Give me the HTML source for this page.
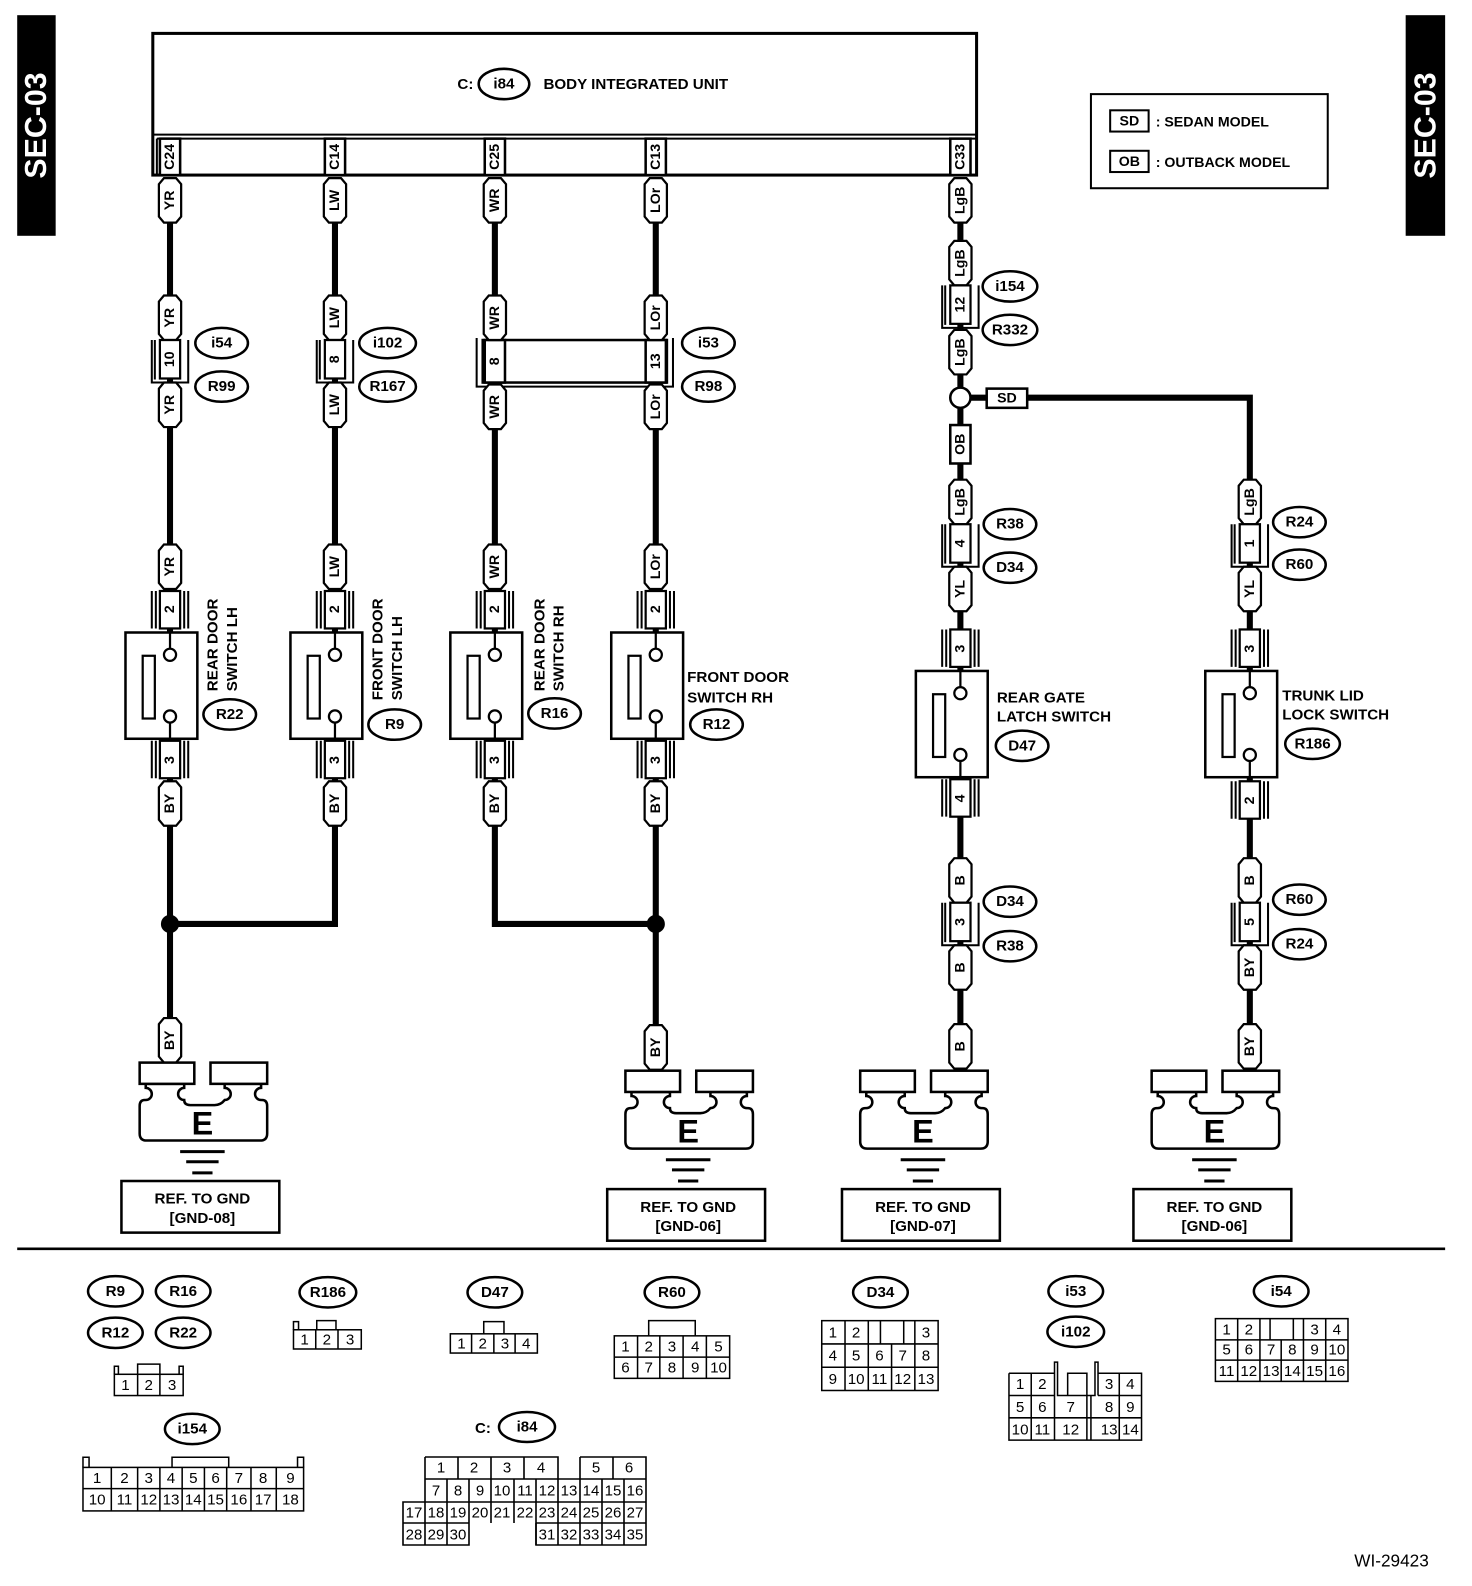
<!DOCTYPE html>
<html><head><meta charset="utf-8"><style>
html,body{margin:0;padding:0;background:#fff}
svg{display:block}
text{font-family:"Liberation Sans",Arial,sans-serif;font-weight:bold;fill:#000}
.v{font-size:14px;text-anchor:middle;dominant-baseline:central}
.o{font-size:15px;text-anchor:middle;dominant-baseline:central}
.lb{font-size:15px}
.n{font-weight:normal;font-size:15px;text-anchor:middle;dominant-baseline:central}
.s{fill:#fff;stroke:#000;stroke-width:2.5}
.w{fill:none;stroke:#000;stroke-width:6}
.l{fill:none;stroke:#000;stroke-width:2}
</style></head><body>
<svg width="1472" height="1586" viewBox="0 0 1472 1586" xmlns="http://www.w3.org/2000/svg">
<defs>
<path id="tg" d="M-11,6 L-6,0 H6 L11,6 V38 L6,44 H-6 L-11,38 Z" fill="#fff" stroke="#000" stroke-width="2.2"/>
<g id="sp"><path d="M-14,0V37M-18,0V37M14,0V37M18,0V37" stroke="#000" stroke-width="2" fill="none"/><rect x="-10" y="0" width="20" height="37" fill="#fff" stroke="#000" stroke-width="2.2"/></g>
<g id="ic"><path d="M-18,0V42H18V0M-15,0V39" stroke="#000" stroke-width="2" fill="none"/><rect x="-10" y="0" width="20" height="38" fill="#fff" stroke="#000" stroke-width="2.2"/></g>
<g id="sw"><rect x="-44" y="0" width="71" height="105" fill="#fff" stroke="#000" stroke-width="2.5"/><rect x="-27" y="23" width="12" height="62" fill="#fff" stroke="#000" stroke-width="2.2"/><path d="M0,0V16M0,89V105" stroke="#000" stroke-width="2.2"/><circle cx="0" cy="22" r="6" fill="#fff" stroke="#000" stroke-width="2.2"/><circle cx="0" cy="83" r="6" fill="#fff" stroke="#000" stroke-width="2.2"/></g>
<g id="gnd">
<path d="M-56,21 V25 A6,6 0 0 1 -56,37 H-57 Q-62,37 -62,43 V70 Q-62,77 -55,77 H57 Q64,77 64,70 V43 Q64,37 59,37 H58 A6,6 0 0 1 58,25 V21 H22 V25 A6,6 0 0 1 22,37 Q18,42 12,42 H-12 Q-18,42 -18,37 A6,6 0 0 1 -18,25 V21 Z" fill="#fff" stroke="#000" stroke-width="2.5"/>
<rect x="-62" y="0" width="54" height="21" fill="#fff" stroke="#000" stroke-width="2.5"/>
<rect x="8" y="0" width="56" height="21" fill="#fff" stroke="#000" stroke-width="2.5"/>
<path d="M-22,88H22M-16,98H16M-10,109H10" stroke="#000" stroke-width="3"/>
<rect x="-80" y="117" width="156" height="51" fill="#fff" stroke="#000" stroke-width="2.5"/>
</g>
</defs>

<g transform="scale(1.012)">
<rect x="17" y="15" width="38" height="218" fill="#000"/>
<text transform="translate(36,124) rotate(-90)" style="fill:#fff;font-size:30px;text-anchor:middle;dominant-baseline:central">SEC-03</text>
<rect x="1389" y="15" width="39" height="218" fill="#000"/>
<text transform="translate(1409,124) rotate(-90)" style="fill:#fff;font-size:30px;text-anchor:middle;dominant-baseline:central">SEC-03</text>

<rect x="1078" y="93" width="234" height="93" class="l" stroke-width="2.5"/>
<rect x="1097" y="109" width="38" height="21" class="l"/>
<text x="1116" y="120" class="o" style="font-size:14px">SD</text>
<text x="1142" y="125" class="lb" style="font-size:14px">: SEDAN MODEL</text>
<rect x="1097" y="149" width="38" height="21" class="l"/>
<text x="1116" y="160" class="o" style="font-size:14px">OB</text>
<text x="1142" y="165" class="lb" style="font-size:14px">: OUTBACK MODEL</text>

<path class="w" d="M168,176V1052"/>
<path class="w" d="M331,176V913H168"/>
<path class="w" d="M489,176V913H648"/>
<path class="w" d="M648,176V1060"/>
<path class="w" d="M949,176V1058"/>
<path class="w" d="M959,393H1235V1058"/>
<circle cx="168" cy="913" r="9"/>
<circle cx="648" cy="913" r="9"/>

<rect x="151" y="33" width="814" height="140" fill="#fff" stroke="#000" stroke-width="3"/>
<path d="M151,133H965M155,137H965M155,137V173" stroke="#000" stroke-width="2" fill="none"/>
<text x="452" y="88" class="lb">C:</text>
<ellipse cx="498" cy="83" rx="25" ry="15" class="s"/>
<text x="498" y="83" class="o">i84</text>
<text x="537" y="88" class="lb">BODY INTEGRATED UNIT</text>
<rect x="158" y="137" width="20" height="36" class="s" stroke-width="2"/><text class="v" transform="translate(168,155) rotate(-90)">C24</text>
<rect x="321" y="137" width="20" height="36" class="s" stroke-width="2"/><text class="v" transform="translate(331,155) rotate(-90)">C14</text>
<rect x="479" y="137" width="20" height="36" class="s" stroke-width="2"/><text class="v" transform="translate(489,155) rotate(-90)">C25</text>
<rect x="638" y="137" width="20" height="36" class="s" stroke-width="2"/><text class="v" transform="translate(648,155) rotate(-90)">C13</text>
<rect x="939" y="137" width="20" height="36" class="s" stroke-width="2"/><text class="v" transform="translate(949,155) rotate(-90)">C33</text>

<use href="#tg" x="168" y="176"/><text class="v" transform="translate(168,198) rotate(-90)">YR</text>
<use href="#tg" x="168" y="292"/><text class="v" transform="translate(168,314) rotate(-90)">YR</text>
<use href="#ic" x="168" y="336"/><text class="v" transform="translate(168,355) rotate(-90)">10</text>
<use href="#tg" x="168" y="378"/><text class="v" transform="translate(168,400) rotate(-90)">YR</text>
<ellipse cx="219" cy="339" rx="26" ry="15" class="s"/><text x="219" y="339" class="o">i54</text>
<ellipse cx="219" cy="382" rx="26" ry="15" class="s"/><text x="219" y="382" class="o">R99</text>
<use href="#tg" x="168" y="538"/><text class="v" transform="translate(168,560) rotate(-90)">YR</text>
<use href="#sp" x="168" y="584"/><text class="v" transform="translate(168,602) rotate(-90)">2</text>
<use href="#sw" x="168" y="625"/>
<use href="#sp" x="168" y="732"/><text class="v" transform="translate(168,751) rotate(-90)">3</text>
<use href="#tg" x="168" y="772"/><text class="v" transform="translate(168,794) rotate(-90)">BY</text>
<text class="lb" transform="translate(215,683) rotate(-90)">REAR DOOR</text>
<text class="lb" transform="translate(234,683) rotate(-90)">SWITCH LH</text>
<ellipse cx="227" cy="706" rx="26" ry="15" class="s"/><text x="227" y="706" class="o">R22</text>
<use href="#tg" x="168" y="1006"/><text class="v" transform="translate(168,1028) rotate(-90)">BY</text>

<use href="#tg" x="331" y="176"/><text class="v" transform="translate(331,198) rotate(-90)">LW</text>
<use href="#tg" x="331" y="292"/><text class="v" transform="translate(331,314) rotate(-90)">LW</text>
<use href="#ic" x="331" y="336"/><text class="v" transform="translate(331,355) rotate(-90)">8</text>
<use href="#tg" x="331" y="378"/><text class="v" transform="translate(331,400) rotate(-90)">LW</text>
<ellipse cx="383" cy="339" rx="28" ry="15" class="s"/><text x="383" y="339" class="o">i102</text>
<ellipse cx="383" cy="382" rx="28" ry="15" class="s"/><text x="383" y="382" class="o">R167</text>
<use href="#tg" x="331" y="538"/><text class="v" transform="translate(331,560) rotate(-90)">LW</text>
<use href="#sp" x="331" y="584"/><text class="v" transform="translate(331,602) rotate(-90)">2</text>
<use href="#sw" x="331" y="625"/>
<use href="#sp" x="331" y="732"/><text class="v" transform="translate(331,751) rotate(-90)">3</text>
<use href="#tg" x="331" y="772"/><text class="v" transform="translate(331,794) rotate(-90)">BY</text>
<text class="lb" transform="translate(378,692) rotate(-90)">FRONT DOOR</text>
<text class="lb" transform="translate(397,692) rotate(-90)">SWITCH LH</text>
<ellipse cx="390" cy="716" rx="26" ry="15" class="s"/><text x="390" y="716" class="o">R9</text>

<path d="M471,334V382H665V334" stroke="#000" stroke-width="2" fill="none"/>
<rect x="477" y="336" width="182" height="42" class="s" stroke-width="2.2"/>
<rect x="479" y="336" width="20" height="42" class="s" stroke-width="2.2"/>
<rect x="638" y="336" width="20" height="42" class="s" stroke-width="2.2"/>
<text class="v" transform="translate(489,357) rotate(-90)">8</text>
<text class="v" transform="translate(648,357) rotate(-90)">13</text>
<ellipse cx="700" cy="339" rx="26" ry="15" class="s"/><text x="700" y="339" class="o">i53</text>
<ellipse cx="700" cy="382" rx="26" ry="15" class="s"/><text x="700" y="382" class="o">R98</text>

<use href="#tg" x="489" y="176"/><text class="v" transform="translate(489,198) rotate(-90)">WR</text>
<use href="#tg" x="489" y="292"/><text class="v" transform="translate(489,314) rotate(-90)">WR</text>
<use href="#tg" x="489" y="380"/><text class="v" transform="translate(489,402) rotate(-90)">WR</text>
<use href="#tg" x="489" y="538"/><text class="v" transform="translate(489,560) rotate(-90)">WR</text>
<use href="#sp" x="489" y="584"/><text class="v" transform="translate(489,602) rotate(-90)">2</text>
<use href="#sw" x="489" y="625"/>
<use href="#sp" x="489" y="732"/><text class="v" transform="translate(489,751) rotate(-90)">3</text>
<use href="#tg" x="489" y="772"/><text class="v" transform="translate(489,794) rotate(-90)">BY</text>
<text class="lb" transform="translate(538,683) rotate(-90)">REAR DOOR</text>
<text class="lb" transform="translate(557,683) rotate(-90)">SWITCH RH</text>
<ellipse cx="548" cy="705" rx="26" ry="15" class="s"/><text x="548" y="705" class="o">R16</text>

<use href="#tg" x="648" y="176"/><text class="v" transform="translate(648,198) rotate(-90)">LOr</text>
<use href="#tg" x="648" y="292"/><text class="v" transform="translate(648,314) rotate(-90)">LOr</text>
<use href="#tg" x="648" y="380"/><text class="v" transform="translate(648,402) rotate(-90)">LOr</text>
<use href="#tg" x="648" y="538"/><text class="v" transform="translate(648,560) rotate(-90)">LOr</text>
<use href="#sp" x="648" y="584"/><text class="v" transform="translate(648,602) rotate(-90)">2</text>
<use href="#sw" x="648" y="625"/>
<use href="#sp" x="648" y="732"/><text class="v" transform="translate(648,751) rotate(-90)">3</text>
<use href="#tg" x="648" y="772"/><text class="v" transform="translate(648,794) rotate(-90)">BY</text>
<text x="679" y="674" class="lb">FRONT DOOR</text>
<text x="679" y="694" class="lb">SWITCH RH</text>
<ellipse cx="708" cy="716" rx="26" ry="15" class="s"/><text x="708" y="716" class="o">R12</text>
<use href="#tg" x="648" y="1013"/><text class="v" transform="translate(648,1035) rotate(-90)">BY</text>

<use href="#tg" x="949" y="176"/><text class="v" transform="translate(949,198) rotate(-90)">LgB</text>
<use href="#tg" x="949" y="238"/><text class="v" transform="translate(949,260) rotate(-90)">LgB</text>
<use href="#ic" x="949" y="282"/><text class="v" transform="translate(949,301) rotate(-90)">12</text>
<use href="#tg" x="949" y="326"/><text class="v" transform="translate(949,348) rotate(-90)">LgB</text>
<ellipse cx="998" cy="283" rx="27" ry="15" class="s"/><text x="998" y="283" class="o">i154</text>
<ellipse cx="998" cy="326" rx="27" ry="15" class="s"/><text x="998" y="326" class="o">R332</text>
<circle cx="949" cy="393" r="10" class="s"/>
<rect x="975" y="384" width="40" height="19" class="s" stroke-width="2.2"/><text x="995" y="394" class="o" style="font-size:14px">SD</text>
<rect x="939" y="420" width="20" height="38" class="s" stroke-width="2.2"/><text class="v" transform="translate(949,439) rotate(-90)">OB</text>
<use href="#tg" x="949" y="474"/><text class="v" transform="translate(949,496) rotate(-90)">LgB</text>
<use href="#ic" x="949" y="518"/><text class="v" transform="translate(949,537) rotate(-90)">4</text>
<use href="#tg" x="949" y="560"/><text class="v" transform="translate(949,582) rotate(-90)">YL</text>
<ellipse cx="998" cy="518" rx="26" ry="15" class="s"/><text x="998" y="518" class="o">R38</text>
<ellipse cx="998" cy="561" rx="26" ry="15" class="s"/><text x="998" y="561" class="o">D34</text>
<use href="#sp" x="949" y="622"/><text class="v" transform="translate(949,641) rotate(-90)">3</text>
<use href="#sw" x="949" y="663"/>
<use href="#sp" x="949" y="770"/><text class="v" transform="translate(949,789) rotate(-90)">4</text>
<text x="985" y="694" class="lb">REAR GATE</text>
<text x="985" y="713" class="lb">LATCH SWITCH</text>
<ellipse cx="1010" cy="737" rx="26" ry="15" class="s"/><text x="1010" y="737" class="o">D47</text>
<use href="#tg" x="949" y="848"/><text class="v" transform="translate(949,870) rotate(-90)">B</text>
<use href="#ic" x="949" y="892"/><text class="v" transform="translate(949,911) rotate(-90)">3</text>
<use href="#tg" x="949" y="934"/><text class="v" transform="translate(949,956) rotate(-90)">B</text>
<ellipse cx="998" cy="891" rx="26" ry="15" class="s"/><text x="998" y="891" class="o">D34</text>
<ellipse cx="998" cy="935" rx="26" ry="15" class="s"/><text x="998" y="935" class="o">R38</text>
<use href="#tg" x="949" y="1012"/><text class="v" transform="translate(949,1034) rotate(-90)">B</text>

<use href="#tg" x="1235" y="474"/><text class="v" transform="translate(1235,496) rotate(-90)">LgB</text>
<use href="#ic" x="1235" y="518"/><text class="v" transform="translate(1235,537) rotate(-90)">1</text>
<use href="#tg" x="1235" y="560"/><text class="v" transform="translate(1235,582) rotate(-90)">YL</text>
<ellipse cx="1284" cy="516" rx="26" ry="15" class="s"/><text x="1284" y="516" class="o">R24</text>
<ellipse cx="1284" cy="558" rx="26" ry="15" class="s"/><text x="1284" y="558" class="o">R60</text>
<use href="#sp" x="1235" y="622"/><text class="v" transform="translate(1235,641) rotate(-90)">3</text>
<use href="#sw" x="1235" y="663"/>
<use href="#sp" x="1235" y="772"/><text class="v" transform="translate(1235,791) rotate(-90)">2</text>
<text x="1267" y="692" class="lb">TRUNK LID</text>
<text x="1267" y="711" class="lb">LOCK SWITCH</text>
<ellipse cx="1297" cy="735" rx="27" ry="15" class="s"/><text x="1297" y="735" class="o">R186</text>
<use href="#tg" x="1235" y="848"/><text class="v" transform="translate(1235,870) rotate(-90)">B</text>
<use href="#ic" x="1235" y="892"/><text class="v" transform="translate(1235,911) rotate(-90)">5</text>
<use href="#tg" x="1235" y="934"/><text class="v" transform="translate(1235,956) rotate(-90)">BY</text>
<ellipse cx="1284" cy="889" rx="26" ry="15" class="s"/><text x="1284" y="889" class="o">R60</text>
<ellipse cx="1284" cy="933" rx="26" ry="15" class="s"/><text x="1284" y="933" class="o">R24</text>
<use href="#tg" x="1235" y="1012"/><text class="v" transform="translate(1235,1034) rotate(-90)">BY</text>

<use href="#gnd" x="200" y="1050"/>
<text x="200" y="1110" class="o" style="font-size:32px">E</text>
<text x="200" y="1185" class="o">REF. TO GND</text><text x="200" y="1204" class="o">[GND-08]</text>
<use href="#gnd" x="680" y="1058"/>
<text x="680" y="1118" class="o" style="font-size:32px">E</text>
<text x="680" y="1193" class="o">REF. TO GND</text><text x="680" y="1212" class="o">[GND-06]</text>
<use href="#gnd" x="912" y="1058"/>
<text x="912" y="1118" class="o" style="font-size:32px">E</text>
<text x="912" y="1193" class="o">REF. TO GND</text><text x="912" y="1212" class="o">[GND-07]</text>
<use href="#gnd" x="1200" y="1058"/>
<text x="1200" y="1118" class="o" style="font-size:32px">E</text>
<text x="1200" y="1193" class="o">REF. TO GND</text><text x="1200" y="1212" class="o">[GND-06]</text>

<path d="M17,1234H1428" stroke="#000" stroke-width="2.5"/>

<ellipse cx="114" cy="1276" rx="27" ry="15" class="s"/><text x="114" y="1276" class="o">R9</text>
<ellipse cx="181" cy="1276" rx="27" ry="15" class="s"/><text x="181" y="1276" class="o">R16</text>
<ellipse cx="114" cy="1317" rx="27" ry="15" class="s"/><text x="114" y="1317" class="o">R12</text>
<ellipse cx="181" cy="1317" rx="27" ry="15" class="s"/><text x="181" y="1317" class="o">R22</text>
<g fill="none" stroke="#000" stroke-width="1.5">
<rect x="113" y="1358" width="68" height="21"/><path d="M136,1358V1379M158,1358V1379M136,1358V1348H158V1358M113,1358V1350H117V1358M177,1358V1350H181V1358"/>
</g>
<text x="124" y="1369" class="n">1</text><text x="147" y="1369" class="n">2</text><text x="170" y="1369" class="n">3</text>

<ellipse cx="324" cy="1277" rx="28" ry="15" class="s"/><text x="324" y="1277" class="o">R186</text>
<g fill="none" stroke="#000" stroke-width="1.5"><rect x="290" y="1314" width="67" height="19"/><path d="M312,1314V1333M334,1314V1333M313,1314V1305H332V1314M290,1314V1306H295V1314"/></g>
<text x="301" y="1324" class="n">1</text><text x="323" y="1324" class="n">2</text><text x="346" y="1324" class="n">3</text>

<ellipse cx="489" cy="1277" rx="27" ry="15" class="s"/><text x="489" y="1277" class="o">D47</text>
<g fill="none" stroke="#000" stroke-width="1.5"><rect x="445" y="1318" width="86" height="19"/><path d="M466,1318V1337M488,1318V1337M509,1318V1337M478,1318V1306H498V1318"/></g>
<text x="456" y="1328" class="n">1</text><text x="477" y="1328" class="n">2</text><text x="499" y="1328" class="n">3</text><text x="520" y="1328" class="n">4</text>

<ellipse cx="664" cy="1277" rx="27" ry="15" class="s"/><text x="664" y="1277" class="o">R60</text>
<g fill="none" stroke="#000" stroke-width="1.5"><rect x="607" y="1320" width="114" height="42"/><path d="M607,1341H721M630,1320V1362M652,1320V1362M675,1320V1362M698,1320V1362M641,1320V1305H687V1320"/></g>
<text x="618" y="1331" class="n">1</text><text x="641" y="1331" class="n">2</text><text x="664" y="1331" class="n">3</text><text x="687" y="1331" class="n">4</text><text x="710" y="1331" class="n">5</text>
<text x="618" y="1352" class="n">6</text><text x="641" y="1352" class="n">7</text><text x="664" y="1352" class="n">8</text><text x="687" y="1352" class="n">9</text><text x="710" y="1352" class="n">10</text>

<ellipse cx="870" cy="1277" rx="27" ry="15" class="s"/><text x="870" y="1277" class="o">D34</text>
<g fill="none" stroke="#000" stroke-width="1.5"><rect x="812" y="1305" width="115" height="69"/><path d="M812,1328H927M812,1351H927M835,1305V1374M858,1305V1374M881,1328V1374M904,1305V1374M870,1305V1328H893V1305"/></g>
<text x="823" y="1317" class="n">1</text><text x="846" y="1317" class="n">2</text><text x="915" y="1317" class="n">3</text>
<text x="823" y="1340" class="n">4</text><text x="846" y="1340" class="n">5</text><text x="869" y="1340" class="n">6</text><text x="892" y="1340" class="n">7</text><text x="915" y="1340" class="n">8</text>
<text x="823" y="1363" class="n">9</text><text x="846" y="1363" class="n">10</text><text x="869" y="1363" class="n">11</text><text x="892" y="1363" class="n">12</text><text x="915" y="1363" class="n">13</text>

<ellipse cx="1063" cy="1276" rx="27" ry="15" class="s"/><text x="1063" y="1276" class="o">i53</text>
<ellipse cx="1063" cy="1316" rx="28" ry="15" class="s"/><text x="1063" y="1316" class="o">i102</text>
<g fill="none" stroke="#000" stroke-width="1.5"><path d="M997,1357H1042V1346H1045V1379H1078M997,1357V1423H1128V1357H1085V1346H1082V1379H1075M1074,1379V1423M1078,1379V1423M997,1379H1042M1085,1379H1128M997,1401H1128M1019,1357V1423M1042,1357V1423M1106,1357V1423M1085,1357V1379M1055,1379V1357H1074V1379"/></g>
<text x="1008" y="1368" class="n">1</text><text x="1030" y="1368" class="n">2</text><text x="1096" y="1368" class="n">3</text><text x="1117" y="1368" class="n">4</text>
<text x="1008" y="1391" class="n">5</text><text x="1030" y="1391" class="n">6</text><text x="1058" y="1391" class="n">7</text><text x="1096" y="1391" class="n">8</text><text x="1117" y="1391" class="n">9</text>
<text x="1008" y="1413" class="n">10</text><text x="1030" y="1413" class="n">11</text><text x="1058" y="1413" class="n">12</text><text x="1096" y="1413" class="n">13</text><text x="1117" y="1413" class="n">14</text>

<ellipse cx="1266" cy="1276" rx="27" ry="15" class="s"/><text x="1266" y="1276" class="o">i54</text>
<g fill="none" stroke="#000" stroke-width="1.5"><rect x="1201" y="1303" width="131" height="62"/><path d="M1201,1324H1332M1201,1344H1332M1223,1303V1365M1245,1303V1365M1266,1324V1365M1288,1303V1365M1310,1303V1365M1255,1303V1324M1278,1303V1324"/></g>
<text x="1212" y="1314" class="n">1</text><text x="1234" y="1314" class="n">2</text><text x="1299" y="1314" class="n">3</text><text x="1321" y="1314" class="n">4</text>
<text x="1212" y="1334" class="n">5</text><text x="1234" y="1334" class="n">6</text><text x="1256" y="1334" class="n">7</text><text x="1277" y="1334" class="n">8</text><text x="1299" y="1334" class="n">9</text><text x="1321" y="1334" class="n">10</text>
<text x="1212" y="1355" class="n">11</text><text x="1234" y="1355" class="n">12</text><text x="1256" y="1355" class="n">13</text><text x="1277" y="1355" class="n">14</text><text x="1299" y="1355" class="n">15</text><text x="1321" y="1355" class="n">16</text>

<ellipse cx="190" cy="1412" rx="27" ry="15" class="s"/><text x="190" y="1412" class="o">i154</text>
<g fill="none" stroke="#000" stroke-width="1.5"><rect x="82" y="1450" width="218" height="43"/><path d="M82,1471H300M110,1450V1493M136,1450V1493M158,1450V1493M180,1450V1493M202,1450V1493M224,1450V1493M248,1450V1493M273,1450V1493M82,1450V1440H88V1450M294,1450V1440H300V1450M170,1450V1440H226V1450"/></g>
<text x="96" y="1461" class="n">1</text><text x="123" y="1461" class="n">2</text><text x="147" y="1461" class="n">3</text><text x="169" y="1461" class="n">4</text><text x="191" y="1461" class="n">5</text><text x="213" y="1461" class="n">6</text><text x="236" y="1461" class="n">7</text><text x="260" y="1461" class="n">8</text><text x="287" y="1461" class="n">9</text>
<text x="96" y="1482" class="n">10</text><text x="123" y="1482" class="n">11</text><text x="147" y="1482" class="n">12</text><text x="169" y="1482" class="n">13</text><text x="191" y="1482" class="n">14</text><text x="213" y="1482" class="n">15</text><text x="236" y="1482" class="n">16</text><text x="260" y="1482" class="n">17</text><text x="287" y="1482" class="n">18</text>

<text x="1375" y="1548" style="font-weight:normal;font-size:17px;text-anchor:middle">WI-29423</text>
</g>

<text x="475" y="1433" class="lb">C:</text>
<ellipse cx="527" cy="1427" rx="28" ry="15" class="s"/><text x="527" y="1427" class="o">i84</text>
<g fill="none" stroke="#000" stroke-width="1.6">
<path d="M425,1457H558V1479M425,1457V1502H403V1545H469V1523M580,1457H646V1545H536V1523M425,1479H646M403,1523H469M536,1523H646M403,1502H646M580,1457V1479M458,1457V1479M491,1457V1479M524,1457V1479M613,1457V1479"/>
<path d="M447,1479V1545M469,1479V1523M491,1479V1523M514,1479V1523M536,1479V1545M558,1479V1545M580,1479V1545M602,1479V1545M624,1479V1545M425,1502V1545"/>
</g>
<text x="441" y="1468" class="n">1</text><text x="474" y="1468" class="n">2</text><text x="507" y="1468" class="n">3</text><text x="541" y="1468" class="n">4</text><text x="596" y="1468" class="n">5</text><text x="629" y="1468" class="n">6</text>
<text x="436" y="1491" class="n">7</text><text x="458" y="1491" class="n">8</text><text x="480" y="1491" class="n">9</text><text x="502" y="1491" class="n">10</text><text x="525" y="1491" class="n">11</text><text x="547" y="1491" class="n">12</text><text x="569" y="1491" class="n">13</text><text x="591" y="1491" class="n">14</text><text x="613" y="1491" class="n">15</text><text x="635" y="1491" class="n">16</text>
<text x="414" y="1513" class="n">17</text><text x="436" y="1513" class="n">18</text><text x="458" y="1513" class="n">19</text><text x="480" y="1513" class="n">20</text><text x="502" y="1513" class="n">21</text><text x="525" y="1513" class="n">22</text><text x="547" y="1513" class="n">23</text><text x="569" y="1513" class="n">24</text><text x="591" y="1513" class="n">25</text><text x="613" y="1513" class="n">26</text><text x="635" y="1513" class="n">27</text>
<text x="414" y="1535" class="n">28</text><text x="436" y="1535" class="n">29</text><text x="458" y="1535" class="n">30</text><text x="547" y="1535" class="n">31</text><text x="569" y="1535" class="n">32</text><text x="591" y="1535" class="n">33</text><text x="613" y="1535" class="n">34</text><text x="635" y="1535" class="n">35</text>
</svg>
</body></html>
